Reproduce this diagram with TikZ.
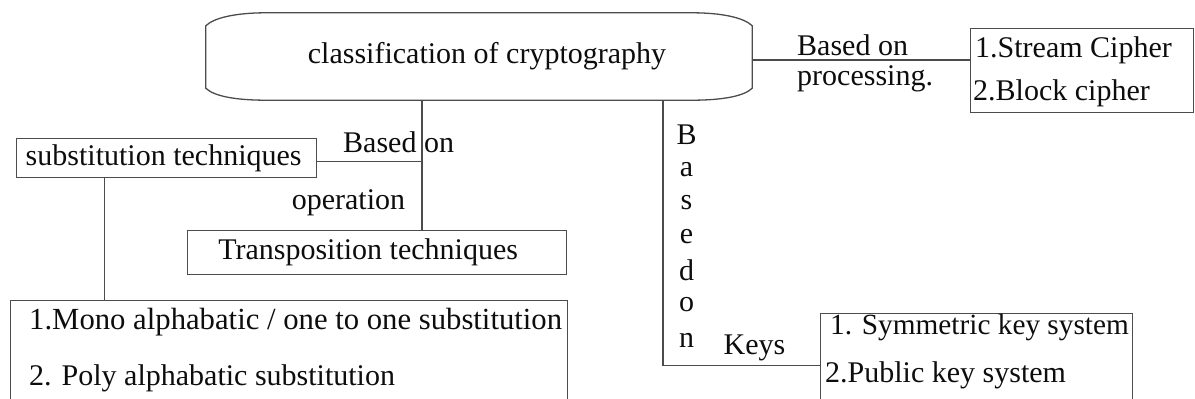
\documentclass[tikz,border=0pt]{standalone}
\usepackage{fontspec}
\setmainfont{Liberation Serif}
\begin{document}
\begin{tikzpicture}[x=1pt,y=-1pt,
  box/.style={draw=black!70, line width=1.3pt, inner sep=0pt},
  txt/.style={inner sep=0pt, font=\fontsize{30}{36}\selectfont, text=black!95},
  link/.style={draw=black!70, line width=1.3pt}]
\useasboundingbox (0,0) rectangle (1195,399);
\clip (0,0) rectangle (1195,399);

% root: barrel-shaped title box
\node[txt, minimum width=546pt, minimum height=87pt] (root) at (479,56.5)
  {\hspace*{16pt}classification of cryptography};
\draw[link] ([yshift=-13pt]root.north west)
  .. controls +(8,-8) and +(-30,0) .. ([xshift=60pt]root.north west)
  -- ([xshift=-60pt]root.north east)
  .. controls +(30,0) and +(-8,-8) .. ([yshift=-13pt]root.north east)
  -- ([yshift=12pt]root.south east)
  .. controls +(-8,8) and +(30,0) .. ([xshift=-60pt]root.south east)
  -- ([xshift=60pt]root.south west)
  .. controls +(-30,0) and +(8,8) .. ([yshift=12pt]root.south west)
  -- cycle;

% processing branch
\node[box, anchor=north west, minimum width=223pt, minimum height=84pt] (stream) at (970,28) {};
\node[txt, anchor=west] (streamA) at (975,50) {1.Stream Cipher};
\node[txt, anchor=west] (streamB) at (973,93) {2.Block cipher};
\node[txt, anchor=west] (procA) at (797,45) {Based on};
\node[txt, anchor=west] (procB) at (797,79) {processing.};
\draw[link] ([yshift=-3.5pt]root.east) -- ([yshift=-3.5pt]root.east -| stream.west);

% operation branch
\node[box, txt, anchor=north west, minimum width=300pt, minimum height=39pt] (sub) at (16,138)
  {substitution techniques\hspace*{6pt}};
\node[box, txt, anchor=north west, minimum width=379pt, minimum height=44pt] (trans) at (187,230)
  {Transposition techniques\hspace*{18pt}};
\node[txt, anchor=west] (opA) at (343,142) {Based on};
\node[txt] (opB) at (348.5,203) {operation};
\coordinate (jA) at ([xshift=-57pt]root.south);
\draw[link] (jA) -- (jA |- trans.north);
\draw[link] ([yshift=-3pt]sub.east) -- ([yshift=-3pt]sub.east -| jA);

\node[box, anchor=north west, minimum width=557pt, minimum height=115pt] (mono) at (10,300) {};
\node[txt, anchor=west, font=\fontsize{30.7}{36}\selectfont] (monoA) at (29,322)
  {1.Mono alphabatic / one to one substitution};
\node[txt, anchor=west] (monoB) at (29,378) {2. Poly alphabatic substitution};
\coordinate (jB) at ([xshift=-62pt]sub.south);
\draw[link] (jB) -- (jB |- mono.north);

% key branch
\node[box, anchor=north west, minimum width=312pt, minimum height=104pt] (symm) at (820,313) {};
\node[txt, anchor=west, font=\fontsize{29.3}{36}\selectfont] (symmA) at (830,327) {1. Symmetric key system};
\node[txt, anchor=west] (symmB) at (825,375) {2.Public key system};
\coordinate (jC) at ([xshift=184pt]root.south);
\draw[link] (jC) |- (symm.west);
\foreach \ch/\yy [count=\i] in {B/135,a/170,s/203,e/237,d/270,o/305,n/340}
  \node[txt] (key\i) at (686.5,\yy) {\ch};
\node[txt] (keys) at (754.5,348) {Keys};
\end{tikzpicture}
\end{document}
